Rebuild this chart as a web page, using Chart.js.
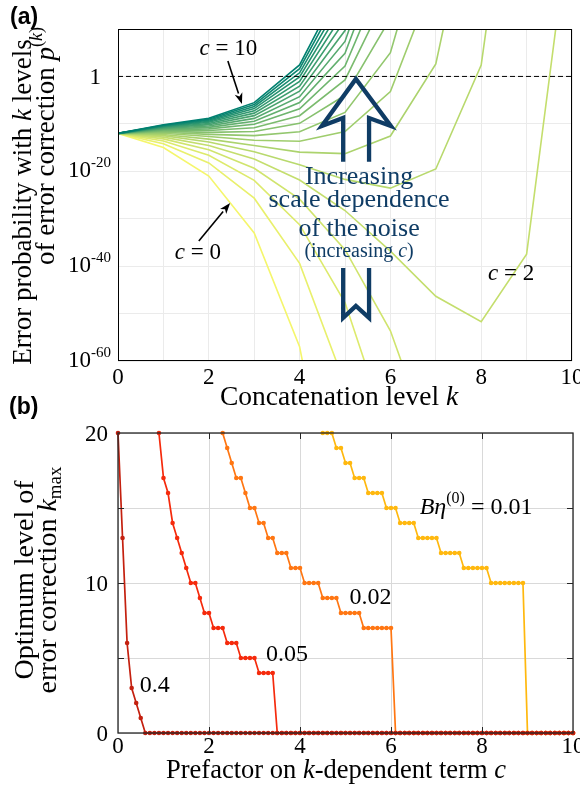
<!DOCTYPE html>
<html>
<head>
<meta charset="utf-8">
<script src="https://cdn.jsdelivr.net/npm/chart.js@4.4.0/dist/chart.umd.min.js"></script>
<style>
    html, body { margin: 0; padding: 0; background: #fff; }
    body { width: 580px; height: 792px; position: relative; overflow: hidden; }
    #chartA { position: absolute; left: 0; top: 0; }
    #chartB { position: absolute; left: 0; top: 410px; }
    .panel { position: absolute; font: bold 23px "Liberation Sans", Arial, sans-serif; color: #000; }
</style>
</head>
<body>
<canvas id="chartA" width="580" height="410"></canvas>
<canvas id="chartB" width="580" height="382"></canvas>
<div class="panel" style="left:10px; top:3px;">(a)</div>
<div class="panel" style="left:9px; top:393px;">(b)</div>
<script>

// ---- panel (a): log10 of error probability per concatenation level ----

const kLevels = [0, 1, 2, 3, 4, 5, 6, 7, 8, 9, 10];

const cValues = [0, 0.5, 1, 1.5, 2, 2.5, 3, 3.5, 4, 4.5, 5,
                 5.5, 6, 6.5, 7, 7.5, 8, 8.5, 9, 9.5, 10];

const logP_c00 = [-12, -15, -21, -33, -57, -105];
const logP_c05 = [-12, -14.19, -18.23, -25.67, -39.42, -64.91];
const logP_c10 = [-12, -13.61, -16.61, -21.91, -31.25, -47.66, -76.46];
const logP_c15 = [-12, -13.17, -15.45, -19.36, -25.87, -36.52, -53.63, -80.39];
const logP_c20 = [-12, -12.80, -14.56, -17.43, -21.84, -28.27, -36.85, -46.36, -51.70, -37.47, 36.57];
const logP_c25 = [-12, -12.49, -13.83, -15.88, -18.63, -21.71, -23.55, -19.52, 2.39, 71.4];
const logP_c30 = [-12, -12.23, -13.22, -14.58, -15.96, -16.28, -12.56, 2.65, 47.04];
const logP_c35 = [-12, -11.99, -12.68, -13.46, -13.67, -11.63, -3.18, 21.55];
const logP_c40 = [-12, -11.78, -12.21, -12.48, -11.67, -7.58, 5.01, 38.01];
const logP_c45 = [-12, -11.59, -11.79, -11.61, -9.89, -3.98, 12.26];
const logP_c50 = [-12, -11.42, -11.41, -10.82, -8.29, -0.74, 18.78];
const logP_c55 = [-12, -11.26, -11.06, -10.10, -6.83, 2.20, 24.69];
const logP_c60 = [-12, -11.11, -10.74, -9.44, -5.50, 4.89, 30.10];
const logP_c65 = [-12, -10.97, -10.44, -8.84, -4.27, 7.37, 35.09];
const logP_c70 = [-12, -10.84, -10.17, -8.27, -3.12, 9.67, 39.72];
const logP_c75 = [-12, -10.72, -9.91, -7.74, -2.06, 11.82];
const logP_c80 = [-12, -10.61, -9.67, -7.25, -1.06, 13.84];
const logP_c85 = [-12, -10.50, -9.44, -6.78, -0.12, 15.73];
const logP_c90 = [-12, -10.39, -9.22, -6.34, 0.77, 17.52];
const logP_c95 = [-12, -10.30, -9.02, -5.92, 1.62, 19.21];
const logP_c100 = [-12, -10.20, -8.82, -5.53, 2.42, 20.82];

const logPCurves = [
    logP_c00, logP_c05, logP_c10, logP_c15, logP_c20, logP_c25, logP_c30,
    logP_c35, logP_c40, logP_c45, logP_c50, logP_c55, logP_c60, logP_c65,
    logP_c70, logP_c75, logP_c80, logP_c85, logP_c90, logP_c95, logP_c100
];

const thresholdLog = 0;
const xTicksA = [0, 2, 4, 6, 8, 10];
const yTicksA = [0, -20, -40, -60];

// ---- panel (b): optimum level k_max against prefactor c ----

const cGrid = [
    0, 0.1, 0.2, 0.3, 0.4, 0.5, 0.6, 0.7, 0.8, 0.9,
    1, 1.1, 1.2, 1.3, 1.4, 1.5, 1.6, 1.7, 1.8, 1.9,
    2, 2.1, 2.2, 2.3, 2.4, 2.5, 2.6, 2.7, 2.8, 2.9,
    3, 3.1, 3.2, 3.3, 3.4, 3.5, 3.6, 3.7, 3.8, 3.9,
    4, 4.1, 4.2, 4.3, 4.4, 4.5, 4.6, 4.7, 4.8, 4.9,
    5, 5.1, 5.2, 5.3, 5.4, 5.5, 5.6, 5.7, 5.8, 5.9,
    6, 6.1, 6.2, 6.3, 6.4, 6.5, 6.6, 6.7, 6.8, 6.9,
    7, 7.1, 7.2, 7.3, 7.4, 7.5, 7.6, 7.7, 7.8, 7.9,
    8, 8.1, 8.2, 8.3, 8.4, 8.5, 8.6, 8.7, 8.8, 8.9,
    9, 9.1, 9.2, 9.3, 9.4, 9.5, 9.6, 9.7, 9.8, 9.9,
    10
];

const kmax_04 = [
    20, 13, 6, 3, 2, 1, 0, 0, 0, 0,
    0, 0, 0, 0, 0, 0, 0, 0, 0, 0,
    0, 0, 0, 0, 0, 0, 0, 0, 0, 0,
    0, 0, 0, 0, 0, 0, 0, 0, 0, 0,
    0, 0, 0, 0, 0, 0, 0, 0, 0, 0,
    0, 0, 0, 0, 0, 0, 0, 0, 0, 0,
    0, 0, 0, 0, 0, 0, 0, 0, 0, 0,
    0, 0, 0, 0, 0, 0, 0, 0, 0, 0,
    0, 0, 0, 0, 0, 0, 0, 0, 0, 0,
    0, 0, 0, 0, 0, 0, 0, 0, 0, 0,
    0
];

const kmax_005 = [
    null, null, null, null, null, null, null, null, null, 20,
    17, 16, 14, 13, 12, 11, 10, 10, 9, 8,
    8, 7, 7, 7, 6, 6, 6, 5, 5, 5,
    5, 4, 4, 4, 4, 0, 0, 0, 0, 0,
    0, 0, 0, 0, 0, 0, 0, 0, 0, 0,
    0, 0, 0, 0, 0, 0, 0, 0, 0, 0,
    0, 0, 0, 0, 0, 0, 0, 0, 0, 0,
    0, 0, 0, 0, 0, 0, 0, 0, 0, 0,
    0, 0, 0, 0, 0, 0, 0, 0, 0, 0,
    0, 0, 0, 0, 0, 0, 0, 0, 0, 0,
    0
];

const kmax_002 = [
    null, null, null, null, null, null, null, null, null, null,
    null, null, null, null, null, null, null, null, null, null,
    null, null, null, 20, 19, 18, 17, 17, 16, 15,
    15, 14, 14, 13, 13, 12, 12, 12, 11, 11,
    11, 10, 10, 10, 10, 9, 9, 9, 9, 8,
    8, 8, 8, 8, 7, 7, 7, 7, 7, 7,
    7, 0, 0, 0, 0, 0, 0, 0, 0, 0,
    0, 0, 0, 0, 0, 0, 0, 0, 0, 0,
    0, 0, 0, 0, 0, 0, 0, 0, 0, 0,
    0, 0, 0, 0, 0, 0, 0, 0, 0, 0,
    0
];

const kmax_001 = [
    null, null, null, null, null, null, null, null, null, null,
    null, null, null, null, null, null, null, null, null, null,
    null, null, null, null, null, null, null, null, null, null,
    null, null, null, null, null, null, null, null, null, null,
    null, null, null, null, null, 20, 20, 20, 19, 19,
    18, 18, 17, 17, 17, 16, 16, 16, 16, 15,
    15, 15, 14, 14, 14, 14, 13, 13, 13, 13,
    13, 12, 12, 12, 12, 12, 11, 11, 11, 11,
    11, 11, 10, 10, 10, 10, 10, 10, 10, 10,
    0, 0, 0, 0, 0, 0, 0, 0, 0, 0,
    0
];

const seriesB = [kmax_04, kmax_005, kmax_002, kmax_001];
const seriesBLabels = ["0.4", "0.05", "0.02", "0.01"];
const seriesBColors = ["#c4200f", "#f52a0c", "#ff7612", "#ffb80e"];

const xTicksB = [0, 2, 4, 6, 8, 10];
const yTicksB = [0, 10, 20];

// ---- drawing helpers ----

const SERIF = "'Liberation Serif', 'Times New Roman', serif";
const NAVY = "#0f3c65";

function serif(size, italic) {
    return (italic ? "italic " : "") + size + "px " + SERIF;
}

function drawRich(ctx, parts, x, y, align) {

    let total = 0;

    parts.forEach(p => {
        ctx.font = serif(p.size, p.italic);
        p.w = ctx.measureText(p.text).width;
        total += p.w;
    });

    let cx = x;
    if (align === "center") cx = x - total / 2;
    if (align === "right") cx = x - total;

    ctx.textAlign = "left";
    ctx.textBaseline = "alphabetic";

    parts.forEach(p => {
        ctx.font = serif(p.size, p.italic);
        ctx.fillText(p.text, cx, y + (p.dy || 0));
        cx += p.w;
    });
}

function drawRotated(ctx, parts, x, y) {
    ctx.save();
    ctx.translate(x, y);
    ctx.rotate(-Math.PI / 2);
    drawRich(ctx, parts, 0, 0, "center");
    ctx.restore();
}

function arrowLine(ctx, x1, y1, x2, y2) {

    const ang = Math.atan2(y2 - y1, x2 - x1);
    const len = 11;
    const half = 4;

    const bx = x2 - len * Math.cos(ang);
    const by = y2 - len * Math.sin(ang);

    ctx.strokeStyle = "#000";
    ctx.lineWidth = 1.6;
    ctx.beginPath();
    ctx.moveTo(x1, y1);
    ctx.lineTo(bx, by);
    ctx.stroke();

    ctx.fillStyle = "#000";
    ctx.beginPath();
    ctx.moveTo(x2, y2);
    ctx.lineTo(bx + half * Math.sin(ang), by - half * Math.cos(ang));
    ctx.lineTo(bx + 3 * Math.cos(ang), by + 3 * Math.sin(ang));
    ctx.lineTo(bx - half * Math.sin(ang), by + half * Math.cos(ang));
    ctx.closePath();
    ctx.fill();
}

function summerColor(c) {
    const t = 1 - c / 10;
    const r = Math.round(245 * t);
    const g = Math.round(128 + 118 * t);
    const b = Math.round(112 - 4 * t);
    return "rgb(" + r + "," + g + "," + b + ")";
}

// annotation outlines in data units (k, log10 p)
const bigArrowHead = [
    [4.96, -18.0], [4.96, -8.76], [4.49, -10.45], [5.24, -0.54],
    [6.01, -10.45], [5.53, -8.76], [5.53, -18.0]
];
const bigArrowTail = [
    [4.96, -40.4], [4.96, -50.9], [5.24, -48.4], [5.53, -50.9], [5.53, -40.4]
];

const panelAPlugin = {

    id: "panelA",

    afterDraw(chart) {

        const ctx = chart.ctx;
        const area = chart.chartArea;
        const xs = chart.scales.x;
        const ys = chart.scales.y;
        const P = (k, l) => [xs.getPixelForValue(k), ys.getPixelForValue(l)];

        ctx.save();

        ctx.strokeStyle = "#000";
        ctx.lineWidth = 1;
        ctx.strokeRect(
            Math.round(area.left) + 0.5,
            Math.round(area.top) + 0.5,
            Math.round(area.right - area.left) - 1,
            Math.round(area.bottom - area.top) - 1
        );

        ctx.fillStyle = "#000";

        xTicksA.forEach(v => {
            drawRich(ctx, [{ text: String(v), size: 23 }],
                xs.getPixelForValue(v), 384, "center");
        });

        yTicksA.forEach(v => {
            const py = ys.getPixelForValue(v);
            if (v === 0) {
                drawRich(ctx, [{ text: "1", size: 23 }], 101, py + 8, "right");
            } else {
                drawRich(ctx, [
                    { text: "10", size: 23 },
                    { text: "-" + Math.abs(v), size: 15, dy: -10 }
                ], 111, py + 6, "right");
            }
        });

        drawRich(ctx, [
            { text: "Concatenation level ", size: 27.5 },
            { text: "k", size: 27.5, italic: true }
        ], 339, 405, "center");

        drawRotated(ctx, [
            { text: "Error probability with ", size: 27 },
            { text: "k", size: 27, italic: true },
            { text: " levels", size: 27 }
        ], 31, 202);

        drawRotated(ctx, [
            { text: "of error correction ", size: 27 },
            { text: "p", size: 27, italic: true },
            { text: "(", size: 18, dy: -12 },
            { text: "k", size: 18, italic: true, dy: -12 },
            { text: ")", size: 18, dy: -12 }
        ], 54, 146);

        // small labelled arrows
        let a = P(2.42, 3.25), b = P(2.73, -5.81);
        arrowLine(ctx, a[0], a[1], b[0], b[1]);
        a = P(1.78, -34.7); b = P(2.47, -26.69);
        arrowLine(ctx, a[0], a[1], b[0], b[1]);

        ctx.fillStyle = "#000";
        let t = P(2.43, 4.5);
        drawRich(ctx, [
            { text: "c", size: 23, italic: true },
            { text: " = 10", size: 23 }
        ], t[0], t[1], "center");
        t = P(1.76, -38.5);
        drawRich(ctx, [
            { text: "c", size: 23, italic: true },
            { text: " = 0", size: 23 }
        ], t[0], t[1], "center");
        t = P(8.66, -42.9);
        drawRich(ctx, [
            { text: "c", size: 23, italic: true },
            { text: " = 2", size: 23 }
        ], t[0], t[1], "center");

        // big outlined arrow
        ctx.strokeStyle = NAVY;
        ctx.lineWidth = 4.3;
        ctx.lineJoin = "miter";
        [bigArrowHead, bigArrowTail].forEach(shape => {
            ctx.beginPath();
            shape.forEach((pt, i) => {
                const q = P(pt[0], pt[1]);
                if (i === 0) ctx.moveTo(q[0], q[1]);
                else ctx.lineTo(q[0], q[1]);
            });
            ctx.stroke();
        });

        ctx.fillStyle = NAVY;
        const cx = xs.getPixelForValue(5.31);
        drawRich(ctx, [{ text: "Increasing", size: 26 }], cx, ys.getPixelForValue(-22.7), "center");
        drawRich(ctx, [{ text: "scale dependence", size: 26 }], cx, ys.getPixelForValue(-27.5), "center");
        drawRich(ctx, [{ text: "of the noise", size: 26 }], cx, ys.getPixelForValue(-33.6), "center");
        drawRich(ctx, [
            { text: "(increasing ", size: 20 },
            { text: "c", size: 20, italic: true },
            { text: ")", size: 20 }
        ], cx, ys.getPixelForValue(-38.1), "center");

        ctx.restore();
    }
};

const panelBPlugin = {

    id: "panelB",

    afterDraw(chart) {

        const ctx = chart.ctx;
        const area = chart.chartArea;
        const xs = chart.scales.x;
        const ys = chart.scales.y;
        const P = (c, k) => [xs.getPixelForValue(c), ys.getPixelForValue(k)];

        ctx.save();

        ctx.strokeStyle = "#262626";
        ctx.lineWidth = 1.3;
        ctx.strokeRect(area.left, area.top, area.right - area.left, area.bottom - area.top);

        ctx.lineWidth = 1;
        ctx.beginPath();
        [2, 4, 6, 8].forEach(v => {
            const px = Math.round(xs.getPixelForValue(v)) + 0.5;
            ctx.moveTo(px, area.bottom); ctx.lineTo(px, area.bottom - 6);
            ctx.moveTo(px, area.top); ctx.lineTo(px, area.top + 6);
        });
        [5, 10, 15].forEach(v => {
            const py = Math.round(ys.getPixelForValue(v)) + 0.5;
            ctx.moveTo(area.left, py); ctx.lineTo(area.left + 6, py);
            ctx.moveTo(area.right, py); ctx.lineTo(area.right - 6, py);
        });
        ctx.stroke();

        ctx.fillStyle = "#000";

        xTicksB.forEach(v => {
            drawRich(ctx, [{ text: String(v), size: 23 }],
                xs.getPixelForValue(v), 343, "center");
        });

        yTicksB.forEach(v => {
            drawRich(ctx, [{ text: String(v), size: 23 }],
                108, ys.getPixelForValue(v) + 8, "right");
        });

        drawRich(ctx, [
            { text: "Prefactor on ", size: 26.5 },
            { text: "k", size: 26.5, italic: true },
            { text: "-dependent term ", size: 26.5 },
            { text: "c", size: 26.5, italic: true }
        ], 336, 368, "center");

        drawRotated(ctx, [
            { text: "Optimum level of", size: 28 }
        ], 33, 170);

        drawRotated(ctx, [
            { text: "error correction ", size: 28 },
            { text: "k", size: 28, italic: true },
            { text: "max", size: 19, dy: 5 }
        ], 56, 170);

        let t = P(7.87, 14.6);
        drawRich(ctx, [
            { text: "B", size: 24, italic: true },
            { text: "\u03b7", size: 24, italic: true },
            { text: "(0)", size: 16, dy: -11 },
            { text: " = 0.01", size: 24 }
        ], t[0], t[1], "center");

        t = P(5.09, 8.6);
        drawRich(ctx, [{ text: seriesBLabels[2], size: 24 }], t[0], t[1], "left");
        t = P(3.25, 4.8);
        drawRich(ctx, [{ text: seriesBLabels[1], size: 24 }], t[0], t[1], "left");
        t = P(0.48, 2.73);
        drawRich(ctx, [{ text: seriesBLabels[0], size: 24 }], t[0], t[1], "left");

        ctx.restore();
    }
};

function buildChartA() {

    const datasets = [];

    datasets.push({
        data: [{ x: 0, y: thresholdLog }, { x: 10, y: thresholdLog }],
        borderColor: "#000",
        borderWidth: 1,
        borderDash: [5, 3],
        pointRadius: 0
    });

    for (let i = logPCurves.length - 1; i >= 0; i--) {
        datasets.push({
            data: logPCurves[i].map((v, j) => ({ x: kLevels[j], y: v })),
            borderColor: summerColor(cValues[i]),
            borderWidth: 1.6,
            pointRadius: 0,
            tension: 0
        });
    }

    new Chart(document.getElementById("chartA"), {
        type: "line",
        data: { datasets: datasets },
        options: {
            responsive: false,
            animation: false,
            events: [],
            devicePixelRatio: 1,
            layout: { padding: { top: 29, right: 8, left: 0, bottom: 0 } },
            plugins: { legend: { display: false }, tooltip: { enabled: false } },
            scales: {
                x: {
                    type: "linear", min: 0, max: 10,
                    ticks: { stepSize: 1, display: false },
                    grid: { color: "#ebebeb", drawTicks: false },
                    border: { display: false },
                    afterFit: s => { s.height = 49; }
                },
                y: {
                    type: "linear", min: -60, max: 10,
                    ticks: { stepSize: 10, display: false },
                    grid: { color: "#ebebeb", drawTicks: false },
                    border: { display: false },
                    afterFit: s => { s.width = 118; }
                }
            }
        },
        plugins: [panelAPlugin]
    });
}

function buildChartB() {

    const datasets = seriesB.map((arr, i) => ({
        data: arr.map((v, j) => ({ x: cGrid[j], y: v })),
        borderColor: seriesBColors[i],
        backgroundColor: seriesBColors[i],
        pointBackgroundColor: seriesBColors[i],
        pointBorderWidth: 0,
        pointRadius: 2.3,
        borderWidth: 1.7,
        tension: 0,
        clip: false
    }));

    new Chart(document.getElementById("chartB"), {
        type: "line",
        data: { datasets: datasets },
        options: {
            responsive: false,
            animation: false,
            events: [],
            devicePixelRatio: 1,
            layout: { padding: { top: 23, right: 7, left: 0, bottom: 0 } },
            plugins: { legend: { display: false }, tooltip: { enabled: false } },
            scales: {
                x: {
                    type: "linear", min: 0, max: 10,
                    ticks: { stepSize: 2, display: false },
                    grid: { color: "#d9d9d9", drawTicks: false },
                    border: { display: false },
                    afterFit: s => { s.height = 59; }
                },
                y: {
                    type: "linear", min: 0, max: 20,
                    ticks: { stepSize: 5, display: false },
                    grid: { color: "#d9d9d9", drawTicks: false },
                    border: { display: false },
                    afterFit: s => { s.width = 118; }
                }
            }
        },
        plugins: [panelBPlugin]
    });
}

buildChartA();
buildChartB();

</script>
</body>
</html>
